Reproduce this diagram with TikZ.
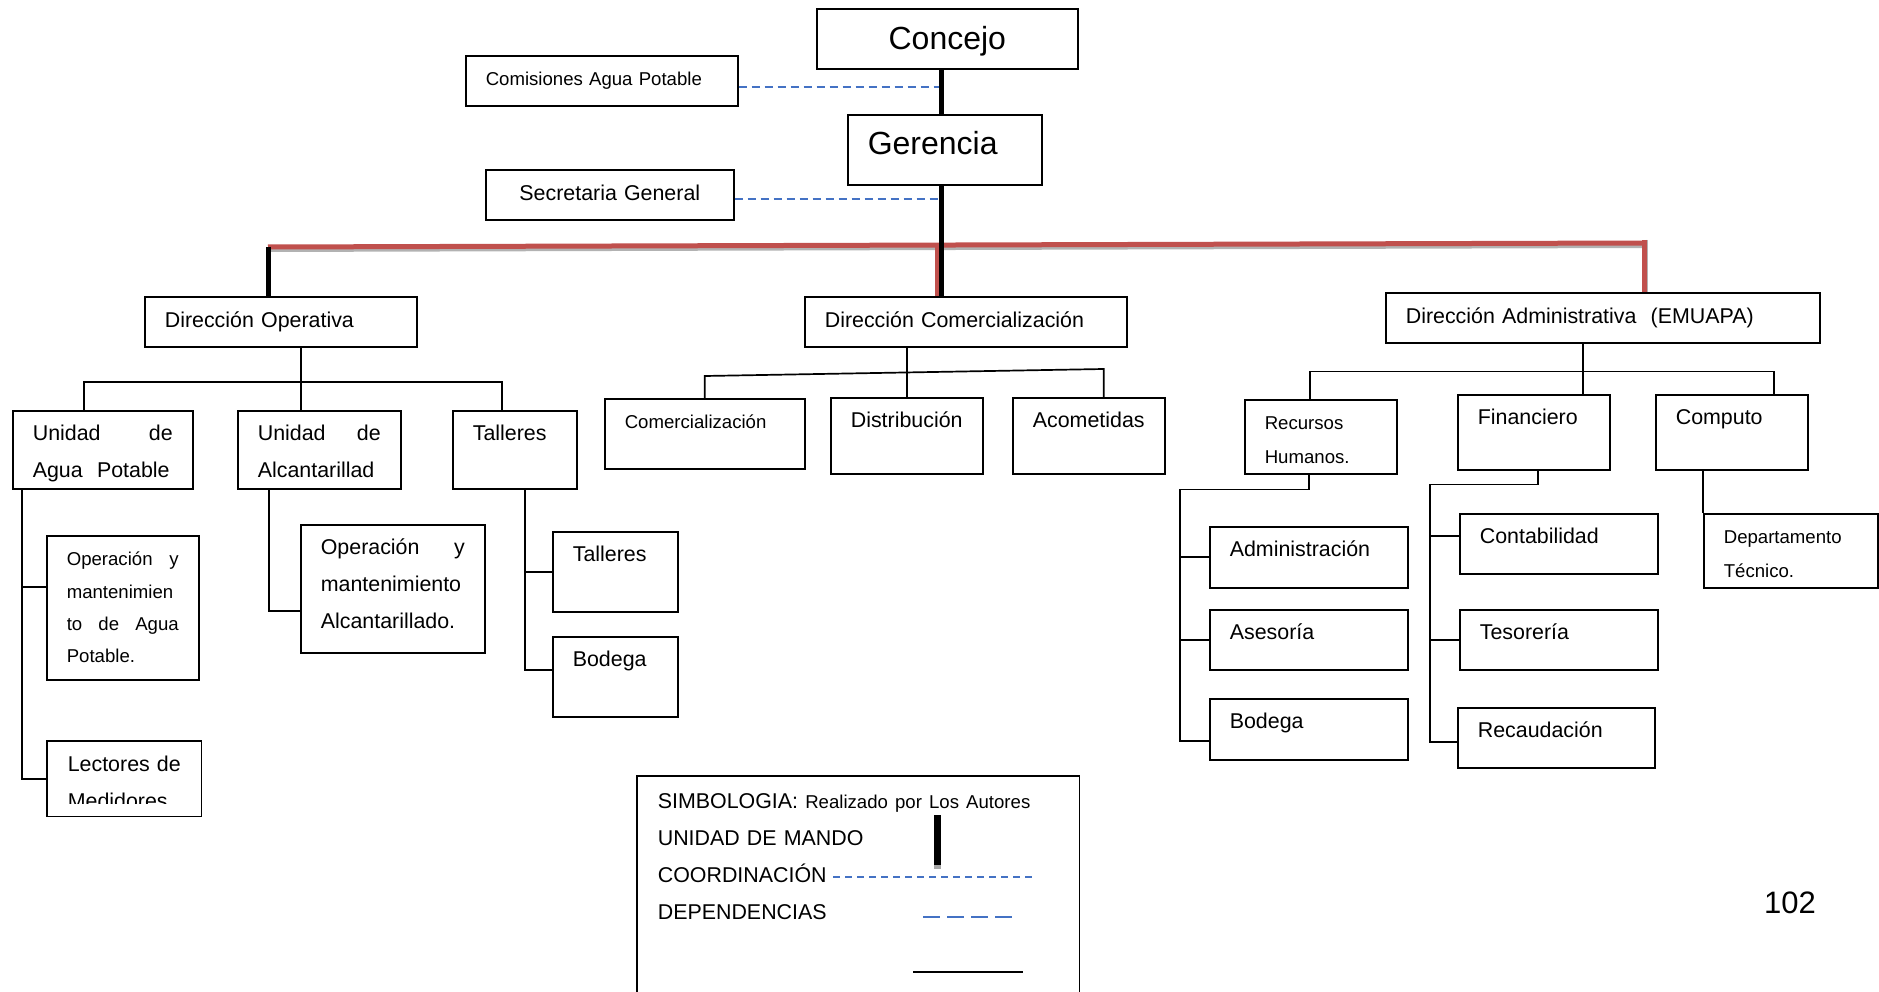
\documentclass[tikz,border=0pt]{standalone}
\usepackage{fontspec}
\setmainfont{Liberation Sans}
\usepackage{tikz}
\usetikzlibrary{calc,positioning}
\definecolor{barred}{RGB}{192,80,77}
\definecolor{coordblue}{RGB}{68,114,196}
\newcommand\fL{\fontsize{21.4}{37}\selectfont}
\newcommand\fS{\fontsize{18.6}{33.5}\selectfont}
\newcommand\fB{\fontsize{32}{40}\selectfont}
\tikzset{
        box/.style = {draw, line width=1.6pt, anchor=north west, align=left,
            inner xsep=20pt, inner ysep=0pt, text height=30pt, font=\fL},
        sbox/.style = {box, font=\fS},
        link/.style = {draw, line width=1.7pt},
        mando/.style = {draw, line width=5pt},
        redbar/.style = {draw=barred, line width=5pt,
            preaction={draw=black!30, line width=4pt, transform canvas={yshift=-3pt}}},
        redv/.style = {draw=barred, line width=5pt,
            preaction={draw=black!30, line width=4pt, transform canvas={xshift=2pt}}},
        coord/.style = {draw=coordblue, line width=1.5pt, dash pattern=on 8pt off 5pt},
    }

\begin{document}
\begin{tikzpicture}[x=1pt, y=-1pt]
\useasboundingbox (0,0) rectangle (1879,992);

\node[box, align=center, font=\fB, text width=221pt, text height=41pt, text depth=19pt] (con) at (816,8) {Concejo};
\node[box, font=\fB, text width=154pt, text height=40pt, text depth=30pt] (ger) at (847,114) {Gerencia};
\node[sbox, text width=232pt, text depth=20pt] (cap) at (465,55) {Comisiones Agua Potable};
\node[box, align=center, text width=208pt, text height=31pt, text depth=19pt] (sec) at (485,169) {Secretaria General};
\coordinate (spine) at (941,0);

\node[box, text width=232pt, text height=31pt, text depth=19pt] (dop) at (144,296) {Dirección Operativa};
\node[box, text width=282pt, text height=31pt, text depth=19pt] (dcom) at (804,296) {Dirección Comercialización};
\node[box, text width=394pt, text height=31pt, text depth=19pt] (dadm) at (1385,292) {Dirección Administrativa\ \ (EMUAPA)};

% operativa
\node[box, text width=140pt, text depth=48pt] (uap) at (12,410) {Unidad\hfill de\\ Agua\ \ Potable};
\node[box, text width=123pt, text depth=48pt] (ual) at (237,410) {Unidad\hfill de\\ Alcantarillad};
\node[box, text width=84pt, text depth=48pt] (tal) at (452,410) {Talleres};
\node[sbox, font=\fontsize{18.6}{32.3}\selectfont, text width=112pt, text depth=114pt] (oap) at (46,535)
  {Operación\hfill y\\ mantenimien\\ to\hfill de\hfill Agua\\ Potable.};
\begin{scope}
  \clip (47,741) rectangle (200,803);
  \node[box, draw=none, text width=113pt, text depth=44pt] (lec) at (47,741) {\mbox{Lectores de}\\ Medidores};
\end{scope}
\draw[line width=1.6pt] (lec.north west) rectangle (lec.south east);
\node[box, text width=144pt, text depth=98pt] (oal) at (300,524) {Operación\hfill y\\ mantenimiento\\ Alcantarillado.};
\node[box, text width=85pt, text depth=50pt] (tal2) at (552,531) {Talleres};
\node[box, text width=85pt, text depth=50pt] (bod1) at (552,636) {Bodega};

% comercializacion
\node[sbox, text width=160pt, text depth=40pt] (com) at (604,398) {Comercialización};
\node[box, text width=112pt, text depth=46pt] (dis) at (830,397) {Distribución};
\node[box, text width=112pt, text depth=46pt] (aco) at (1012,397) {Acometidas};

% administrativa
\node[sbox, text width=112pt, text depth=44pt] (rh) at (1244,399) {Recursos\\ Humanos.};
\node[box, text width=112pt, text depth=45pt] (fin) at (1457,394) {Financiero};
\node[box, text width=112pt, text depth=45pt] (cmp) at (1655,394) {Computo};
\node[sbox, text width=134pt, text depth=44pt] (dep) at (1703,513) {Departamento\\ Técnico.};
\node[box, text width=158pt, text depth=31pt] (adm) at (1209,526) {Administración};
\node[box, text width=158pt, text depth=30pt] (ase) at (1209,609) {Asesoría};
\node[box, text width=158pt, text depth=31pt] (bod2) at (1209,698) {Bodega};
\node[box, text width=158pt, text depth=30pt] (cont) at (1459,513) {Contabilidad};
\node[box, text width=158pt, text depth=30pt] (tes) at (1459,609) {Tesorería};
\node[box, text width=157pt, text depth=30pt] (rec) at (1457,707) {Recaudación};

% mando y coordinacion
\coordinate (rl) at (268,247);
\coordinate (rr) at (1644,243);
\draw[coord] ($(cap.east)+(0,6)$) -- ($(cap.east -| spine)+(0,6)$);
\draw[coord] ($(sec.east)+(0,4)$) -- ($(sec.east -| spine)+(0,4)$);
\draw[redbar] (rl) -- (rr);
\draw[redv] ($(spine |- rl)+(-4,-2)$) -- ($(spine |- dcom.north)+(-4,0)$);
\draw[redv] ([yshift=3pt]rr) -- (rr |- dadm.north);
\draw[mando] (rl) -- (rl |- dop.north);
\draw[mando] (con.south -| spine) -- (ger.north -| spine);
\draw[mando] (ger.south -| spine) -- (dcom.north -| spine);

\coordinate (opdrop) at ([xshift=20pt]dop.south);
\coordinate (opbus) at ($(opdrop)+(0,34)$);
\draw[link] (opdrop) -- (opbus |- ual.north);
\draw[link, line width=2.2pt] ([xshift=-19pt]uap.north) |- (opbus) -| ([xshift=-13pt]tal.north);
\draw[link] ([xshift=10pt]uap.south west) |- (lec.west);
\draw[link] ([yshift=21pt]oap.west) -| ([xshift=10pt]uap.south west);
\draw[link] ([xshift=32pt]ual.south west) |- ([yshift=-22pt]oal.west);
\draw[link] ([xshift=73pt]tal.south west) |- ([yshift=7pt]bod1.west);
\draw[link] (tal2.west) -| ([xshift=73pt]tal.south west);

\draw[link] (dcom.south -| dis.north) -- (dis.north);
\draw[link] (com.north) -- ++(0,-22) -- ($(aco.north)+(15,-28)$) -- ([xshift=15pt]aco.north);

\coordinate (admdrop) at ([xshift=-20pt]dadm.south);
\coordinate (admbus) at ($(admdrop)+(0,28)$);
\draw[link] (admdrop) -- (admdrop |- fin.north);
\draw[link] ([xshift=-11pt]rh.north) |- (admbus) -| ([xshift=42pt]cmp.north);
\draw[link] ([xshift=-12pt]rh.south) -- ++(0,15) -| ([xshift=-29pt,yshift=-12pt]bod2.west) -- ([yshift=-12pt]bod2.west);
\draw[link] (adm.west) -- ++(-29,0);
\draw[link] (ase.west) -- ++(-29,0);
\draw[link] ([xshift=4pt]fin.south) -- ++(0,14) -| ([xshift=-27pt,yshift=-4pt]rec.west) -- ([yshift=-4pt]rec.west);
\draw[link] ([yshift=8pt]cont.west) -- ++(-29,0);
\draw[link] (tes.west) -- ++(-29,0);
\draw[link] (dep.north west) -- (dep.north west |- cmp.south);

% simbologia
\node[box, draw=none, text width=401pt, text height=32pt, text depth=184pt] (leg) at (637,776)
  {{\fL SIMBOLOGIA:} {\fS Realizado por Los Autores}\hfill\\ UNIDAD DE MANDO\hfill\\ COORDINACIÓN\hfill\\ DEPENDENCIAS};
\draw[line width=1.6pt] (leg.south west) -- (leg.north west) -- (leg.north east) -- (leg.south east);
\draw[line width=7pt] ($(leg.north west)+(300,39)$) -- ($(leg.north west)+(300,89)$);
\draw[line width=7pt, black!35] ($(leg.north west)+(300,89)$) -- ++(0,4);
\draw[coord, dash pattern=on 7pt off 5pt] ($(leg.north west)+(196,101)$) -- ++(202,0);
\draw[coord, dash pattern=on 17pt off 7pt] ($(leg.north west)+(286,141)$) -- ++(90,0);
\draw[line width=2pt] ($(leg.north west)+(276,196)$) -- ++(110,0);

\node[font=\fontsize{31}{36}\selectfont] (pnum) at (1790,903) {102};
\end{tikzpicture}
\end{document}
